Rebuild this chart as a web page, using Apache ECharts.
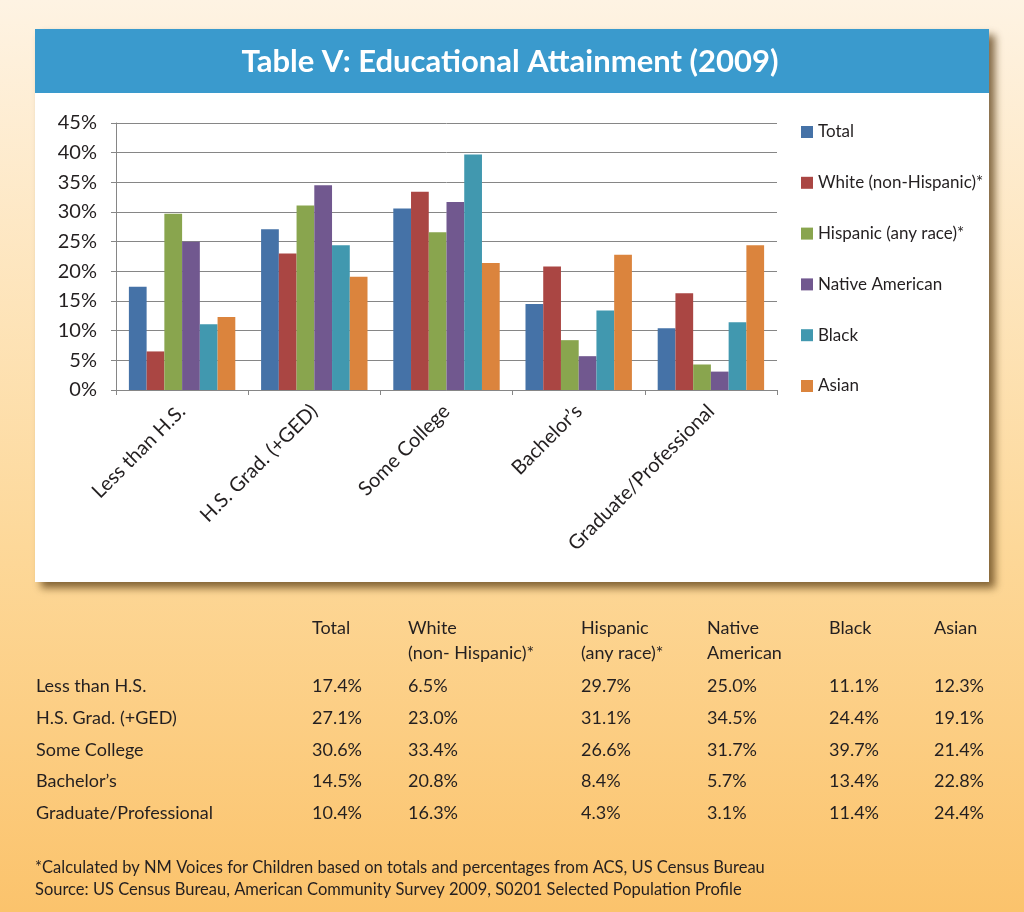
<!DOCTYPE html>
<html>
<head>
<meta charset="utf-8">
<script src="https://cdn.jsdelivr.net/npm/echarts@6/dist/echarts.min.js"></script>
<style>
  html, body { margin: 0; padding: 0; }
  #main { width: 1024px; height: 912px; }
</style>
</head>
<body>
<div id="main"></div>
<script>
// categories and series (percent of population, 2009)
var categories = ['Less than H.S.', 'H.S. Grad. (+GED)', 'Some College', 'Bachelor\u2019s', 'Graduate/Professional'];
var seriesNames = ['Total', 'White (non-Hispanic)*', 'Hispanic (any race)*', 'Native American', 'Black', 'Asian'];
var tableHeaders = ['Total', 'White\n(non- Hispanic)*', 'Hispanic\n(any race)*', 'Native\nAmerican', 'Black', 'Asian'];
var total    = [17.4, 27.1, 30.6, 14.5, 10.4];
var white    = [6.5, 23.0, 33.4, 20.8, 16.3];
var hispanic = [29.7, 31.1, 26.6, 8.4, 4.3];
var nativeAm = [25.0, 34.5, 31.7, 5.7, 3.1];
var black    = [11.1, 24.4, 39.7, 13.4, 11.4];
var asian    = [12.3, 19.1, 21.4, 22.8, 24.4];
var footnotes = [
  '*Calculated by NM Voices for Children based on totals and percentages from ACS, US Census Bureau',
  'Source: US Census Bureau, American Community Survey 2009, S0201 Selected Population Profile'
];

var colors = ['#4572A7', '#AA4643', '#89A54E', '#71588F', '#4198AF', '#DB843D'];
var allData = [total, white, hispanic, nativeAm, black, asian];
var txt = '#231f20';
var font = 'Lato';

var myChart = echarts.init(document.getElementById('main'), null, {renderer: 'canvas'});

// graphic: background, card, title bar, table, notes
var g = [];
g.push({
  type: 'rect', z: -10, silent: true,
  shape: {x: 0, y: 0, width: 1024, height: 912},
  style: {fill: new echarts.graphic.LinearGradient(0, 0, 0, 1, [
    {offset: 0, color: '#fef3e3'},
    {offset: 0.6, color: '#fdd899'},
    {offset: 1, color: '#fbc36c'}
  ])}
});
g.push({
  type: 'rect', z: -9, silent: true,
  shape: {x: 35, y: 29, width: 954, height: 553},
  style: {fill: '#ffffff', shadowBlur: 8, shadowOffsetX: 6, shadowOffsetY: 6, shadowColor: 'rgba(90,60,20,0.75)'}
});
g.push({
  type: 'rect', z: -8, silent: true,
  shape: {x: 35, y: 29, width: 954, height: 64},
  style: {fill: '#3a9acd'}
});
g.push({
  type: 'text', z: 5, silent: true,
  x: 510, y: 62,
  style: {text: 'Table V: Educational Attainment (2009)', fill: '#ffffff', font: 'bold 31px ' + font,
    align: 'center', verticalAlign: 'middle'}
});

var colX = [312, 408, 581, 707, 829, 934];
for (var c = 0; c < tableHeaders.length; c++) {
  g.push({
    type: 'text', silent: true, x: colX[c], y: 616,
    style: {text: tableHeaders[c], fill: txt, font: '18px ' + font, lineHeight: 25, align: 'left', verticalAlign: 'top'}
  });
}
var rowY = [686.5, 718, 750, 781.5, 813];
for (var r = 0; r < categories.length; r++) {
  g.push({
    type: 'text', silent: true, x: 36, y: rowY[r],
    style: {text: categories[r], fill: txt, font: '18px ' + font, align: 'left', verticalAlign: 'middle'}
  });
  for (var s = 0; s < allData.length; s++) {
    g.push({
      type: 'text', silent: true, x: colX[s], y: rowY[r],
      style: {text: allData[s][r].toFixed(1) + '%', fill: txt, font: '18px ' + font, align: 'left', verticalAlign: 'middle'}
    });
  }
}
for (var f = 0; f < footnotes.length; f++) {
  g.push({
    type: 'text', silent: true, x: 35, y: 868 + f * 22,
    style: {text: footnotes[f], fill: txt, font: '16.5px ' + font, align: 'left', verticalAlign: 'middle'}
  });
}

var series = [];
for (var i = 0; i < seriesNames.length; i++) {
  series.push({
    name: seriesNames[i],
    type: 'bar',
    data: allData[i],
    barGap: '0%',
    barCategoryGap: '19.5%',
    itemStyle: {color: colors[i]}
  });
}

var option = {
  animation: false,
  color: colors,
  textStyle: {fontFamily: font, color: txt},
  graphic: g,
  legend: {
    orient: 'vertical',
    left: 796, top: 118,
    itemWidth: 12, itemHeight: 12, itemGap: 32.8,
    icon: 'rect',
    textStyle: {fontSize: 17, lineHeight: 18, color: txt, fontFamily: font},
    data: seriesNames
  },
  grid: {left: 116, right: 247, top: 123, bottom: 522, containLabel: false},
  xAxis: {
    type: 'category',
    data: categories,
    axisLine: {lineStyle: {color: '#868686', width: 1}},
    axisTick: {show: true, length: 5, alignWithLabel: false, lineStyle: {color: '#868686'}},
    axisLabel: {rotate: 45, fontSize: 20, color: txt, fontFamily: font, margin: 18, interval: 0}
  },
  yAxis: {
    type: 'value',
    min: 0, max: 45, interval: 5,
    axisLine: {show: true, lineStyle: {color: '#868686', width: 1}},
    axisTick: {show: true, length: 5, lineStyle: {color: '#868686'}},
    splitLine: {lineStyle: {color: '#868686', width: 1}},
    axisLabel: {formatter: '{value}%', fontSize: 20, color: txt, fontFamily: font, margin: 19}
  },
  series: series
};
myChart.setOption(option);
</script>
</body>
</html>
